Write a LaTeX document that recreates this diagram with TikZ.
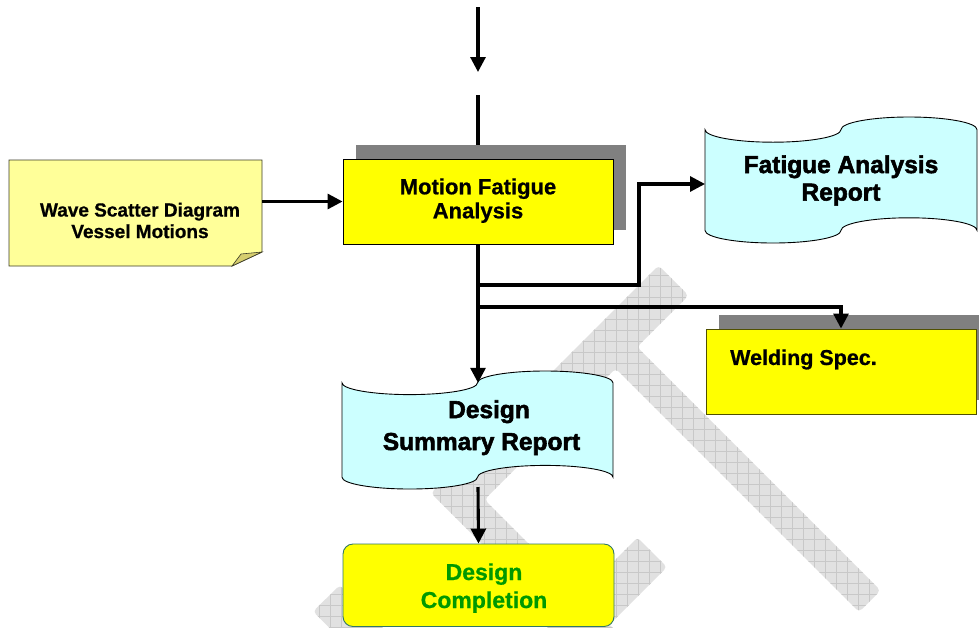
\documentclass[tikz,border=0pt]{standalone}
\usepackage{fontspec}
\setmainfont{Liberation Sans}
\newfontfamily\heavyfont[FakeBold=2.2]{Liberation Sans Bold}
\newfontfamily\boldfont[FakeBold=0.7]{Liberation Sans Bold}
\usetikzlibrary{arrows.meta,shadows}
\definecolor{boxyellow}{RGB}{255,255,0}
\definecolor{pyellow}{RGB}{255,255,153}
\definecolor{foldc}{RGB}{214,206,110}
\definecolor{tapec}{RGB}{204,255,255}
\definecolor{shadowc}{RGB}{128,128,128}
\definecolor{greentxt}{RGB}{0,153,0}
\definecolor{donebd}{RGB}{50,120,100}
\definecolor{weldbd}{RGB}{80,80,0}
\definecolor{waveline}{RGB}{60,60,40}
\definecolor{wmfill}{RGB}{225,225,225}
\definecolor{wmgrid}{RGB}{200,200,200}
\begin{document}
\begin{tikzpicture}[x=1pt,y=-1pt,line join=miter,
  conn/.style={line width=3.1pt,-{Triangle[width=15pt,length=15pt]}},
  link/.style={line width=3.1pt},
  ybox/.style={draw=black,line width=0.9pt,fill=boxyellow,minimum width=270pt,minimum height=85pt,inner sep=0pt},
  shade/.style={drop shadow={shadow xshift=13pt,shadow yshift=14pt,fill=shadowc,opacity=1}},
  tape/.style={draw=black,line width=0.9pt,fill=tapec},
  anchorbox/.style={inner sep=0pt,outer sep=0pt},
  lbl/.style={inner sep=0pt,align=center},
  wmark/.style={fill=wmfill},
  wmlines/.style={draw=wmgrid,line width=0.5pt,step=11pt}
]
\useasboundingbox (0,0) rectangle (979,627);
\fill[white] (0,0) rectangle (979,627);

% watermark
\begin{scope}
  \clip[rounded corners=4pt] (658.5,265.5) -- (431,493) -- (588,650) -- (635,650) -- (484.5,499.5) -- (615.5,368.5) -- (859,612) -- (880.5,590.5) -- (637,347) -- (688.5,295.5) -- cycle;
  \fill[wmark] (400,250) rectangle (900,660);
  \draw[wmlines] (400,250) grid (900,660);
\end{scope}
\begin{scope}
  \clip[rounded corners=4pt] (637.5,537.5) -- (667,567) -- (574,660) -- (515,660) -- cycle;
  \fill[wmark] (500,520) rectangle (700,660);
  \draw[wmlines] (500,520) grid (700,660);
\end{scope}
\begin{scope}
  \clip[rounded corners=4pt] (313,611.5) -- (340,585) -- (415,660) -- (362,660) -- cycle;
  \fill[wmark] (300,570) rectangle (430,660);
  \draw[wmlines] (300,570) grid (430,660);
\end{scope}

% wave scatter note
\node[anchorbox,minimum width=253pt,minimum height=106pt] (wave) at (135.5,213) {};
\filldraw[fill=pyellow,draw=waveline,line width=0.9pt] (wave.north west) -- (wave.north east) -- ([yshift=14pt]wave.south east) -- ([xshift=-30pt]wave.south east) -- (wave.south west) -- cycle;
\filldraw[fill=foldc,draw=waveline,line width=0.6pt] ([xshift=-30pt]wave.south east) -- ([xshift=-21pt,yshift=12pt]wave.south east) -- ([yshift=14pt]wave.south east) -- cycle;
\node[lbl,font={\boldfont\fontsize{19pt}{21.5pt}\selectfont}] (wave-t) at (140,223) {\strut Wave Scatter Diagram\\\strut Vessel Motions};

% motion fatigue analysis
\node[ybox,shade,font={\boldfont\fontsize{22pt}{24pt}\selectfont},align=center] (motion) at (478,201.5) {\strut Motion Fatigue\\\strut Analysis};

% fatigue analysis report
\node[anchorbox,minimum width=272pt,minimum height=126pt] (fat) at (841,180) {};
\draw[tape] (705,129.6) arc[start angle=180,end angle=0,x radius=68,y radius=12.6]
  arc[start angle=180,end angle=360,x radius=68,y radius=12.6] -- (977,230.4)
  arc[start angle=0,end angle=-180,x radius=68,y radius=12.6]
  arc[start angle=0,end angle=180,x radius=68,y radius=12.6] -- cycle;
\node[lbl,font={\heavyfont\fontsize{24.5pt}{27.5pt}\selectfont}] (fat-t) at (841,181.3) {\strut Fatigue Analysis\\\strut Report};

% welding spec
\node[ybox,shade,draw=weldbd] (weld) at (841,371.5) {};
\node[lbl,anchor=west,font={\boldfont\fontsize{21.5pt}{25.8pt}\selectfont}] (weld-t) at (730,359.8) {\strut Welding Spec.};

% design summary report
\node[anchorbox,minimum width=271pt,minimum height=118pt] (sum) at (477.5,430) {};
\draw[tape] (342,382.8) arc[start angle=180,end angle=0,x radius=67.75,y radius=11.8]
  arc[start angle=180,end angle=360,x radius=67.75,y radius=11.8] -- (613,477.2)
  arc[start angle=0,end angle=-180,x radius=67.75,y radius=11.8]
  arc[start angle=0,end angle=180,x radius=67.75,y radius=11.8] -- cycle;
\node[lbl,font={\heavyfont\fontsize{24.5pt}{32pt}\selectfont}] (sum-t) at (481.5,427.6) {\strut\hspace*{15pt}Design\\\strut Summary Report};

% design completion
\node[draw=donebd,line width=0.9pt,fill=boxyellow,rounded corners=10pt,minimum width=271pt,minimum height=82.5pt,inner sep=0pt] (done) at (478.5,585.25) {};
\node[lbl,text=greentxt,font={\boldfont\fontsize{23pt}{28pt}\selectfont}] (done-t) at (484,588.4) {\strut Design\\\strut Completion};

% connectors
\coordinate (in-a) at (478,7);
\coordinate (in-b) at (478,72);
\coordinate (in-c) at (478,95);
\coordinate (in-d) at (478,145);
\draw[conn] (in-a) -- (in-b);
\draw[link] (in-c) -- (in-d);
\draw[conn] (wave.east |- motion.west) -- (motion.west);
\coordinate (sum-top) at (478,382.8);
\draw[conn] (motion.south) -- (sum-top);
\coordinate (br1) at (478,285);
\coordinate (fat-in) at (705,184);
\draw[conn] (br1) -- ++(161,0) |- (fat-in);
\coordinate (br2) at (478,307);
\draw[conn] (br2) -| (weld.north);
\coordinate (sum-bot) at (478,487);
\draw[conn] (sum-bot) -- (done.north);
\end{tikzpicture}
\end{document}
